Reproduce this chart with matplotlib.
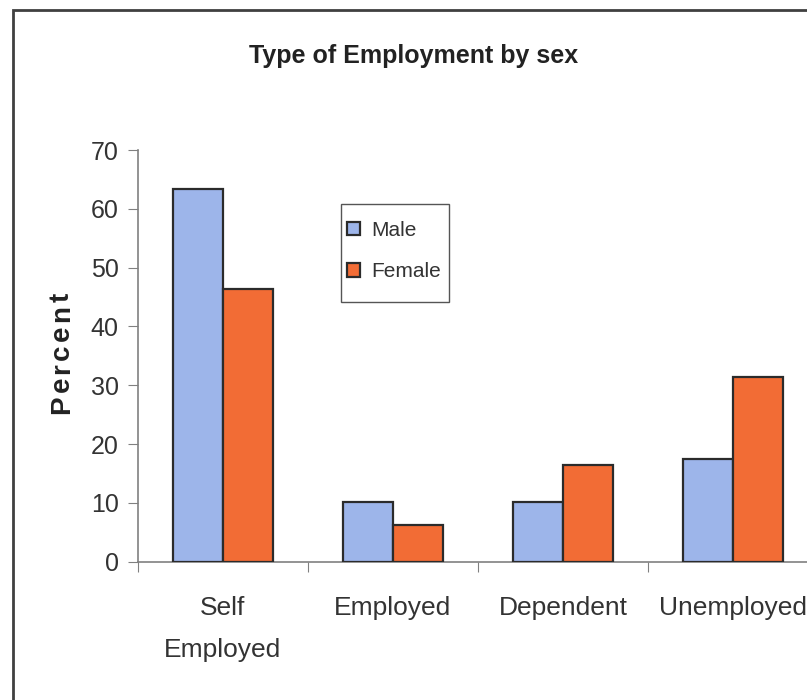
import matplotlib
matplotlib.use("Agg")
import matplotlib.pyplot as plt
import numpy as np
from matplotlib.patches import Rectangle
from matplotlib.font_manager import FontProperties
import matplotlib.transforms as mtransforms

categories = ["Self\nEmployed", "Employed", "Dependent", "Unemployed"]
male = [63.3, 10.2, 10.2, 17.4]
female = [46.3, 6.3, 16.4, 31.4]
series_names = ["Male", "Female"]
yticks = [0, 10, 20, 30, 40, 50, 60, 70]
title = "Type of Employment by sex"
ylabel = "Percent"

plt.rcParams['font.family'] = ['Liberation Sans', 'DejaVu Sans']

W, H = 807, 700
fig = plt.figure(figsize=(W/100, H/100), dpi=100)

# figure border (clipped at right/bottom like the reference)
fig.patches.append(Rectangle((13/W, -0.05), 1.2, 1 - 10/H + 0.05, transform=fig.transFigure,
                             fill=False, edgecolor='#404040', linewidth=2))

left, right = 138/W, 818/W
bottom, top = 1 - 561.6/H, 1 - 150/H
ax = fig.add_axes([left, bottom, right - left, top - bottom])

x = np.arange(len(categories))
bw = 0.294
c_m = '#9DB5EA'
c_f = '#F26C35'
ax.bar(x - bw/2, male, bw, color=c_m, edgecolor='#2b2b2b', linewidth=1.6, label=series_names[0], zorder=3)
ax.bar(x + bw/2, female, bw, color=c_f, edgecolor='#2b2b2b', linewidth=1.6, label=series_names[1], zorder=3)

ax.set_xlim(-0.5, len(categories) - 0.5)
ax.set_ylim(0, 70)
ax.set_yticks(yticks)
ax.set_yticklabels([str(v) for v in yticks], fontsize=18, color='#333333')
ax.set_xticks(np.arange(len(categories) + 1) - 0.5)
ax.set_xticklabels([])
ax.tick_params(axis='x', which='major', length=7, color='#808080', direction='out')
ax.tick_params(axis='y', length=7, color='#808080', direction='out', pad=7)

for s in ['top', 'right']:
    ax.spines[s].set_visible(False)
for s in ['left', 'bottom']:
    ax.spines[s].set_color('#808080')
    ax.spines[s].set_linewidth(1.2)

# category labels, one line at a time
trans = mtransforms.blended_transform_factory(ax.transData, fig.transFigure)
line_base = [615, 657]
for i, lab in enumerate(categories):
    for j, line in enumerate(lab.split("\n")):
        ax.text(x[i], 1 - line_base[j]/H, line, transform=trans, ha='center', va='baseline',
                fontsize=19, color='#333333')

# title
fig.text(414/W, 1 - 63/H, title, fontsize=18, fontweight='bold',
         ha='center', va='baseline', color='#222222')

# y label with letter spacing
fp = FontProperties(family=['Liberation Sans', 'DejaVu Sans'], weight='bold', size=20)
renderer = fig.canvas.get_renderer()
widths = [renderer.get_text_width_height_descent(ch, fp, ismath=False)[0] for ch in ylabel]
start_px, end_px = 414, 293
gap = ((start_px - end_px) - sum(widths)) / (len(ylabel) - 1)
ypos = start_px
for ch, w in zip(ylabel, widths):
    fig.text(69/W, 1 - ypos/H, ch, rotation=90, rotation_mode='anchor', ha='left', va='baseline',
             fontproperties=fp, color='#222222')
    ypos -= w + gap

# legend (frame drawn separately to match the reference's padding)
leg = ax.legend(loc='center left', bbox_to_anchor=(347/W, 1 - 251/H), bbox_transform=fig.transFigure,
                fontsize=15, frameon=False,
                handlelength=0.6, handleheight=0.6, handletextpad=0.55, labelspacing=1.08,
                borderpad=0, borderaxespad=0)
for t in leg.get_texts():
    t.set_color('#333333')
leg.set_zorder(6)
ax.add_patch(Rectangle((341/W, 1 - 302/H), 108/W, 98/H, transform=fig.transFigure, clip_on=False,
                       fill=True, facecolor='white', edgecolor='#555555', linewidth=1.0, zorder=5))

fig.savefig("out.png", dpi=100)
